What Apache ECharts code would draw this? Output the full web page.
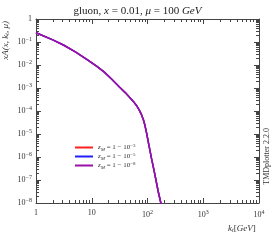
<!DOCTYPE html>
<html><head><meta charset="utf-8">
<script src="https://cdn.jsdelivr.net/npm/echarts@6/dist/echarts.min.js"></script>
<style>html,body{margin:0;padding:0;background:#fff}#c{width:275px;height:246px}</style>
</head><body><div id="c"></div>
<script>
const kt = [1, 2, 3.1, 5, 7.9, 12.2, 16.6, 22.4, 32, 39.8, 48.4, 56.2, 63.8, 70.8, 78.3, 84.1, 89.7, 96.6, 103, 118, 136, 156, 174, 200];
const zm3 = [0.251, 0.123, 0.0741, 0.038, 0.0186, 0.00891, 0.00501, 0.00251, 0.00105, 0.000631, 0.00038, 0.000255, 0.00017, 0.000112, 6.76e-5, 4.27e-5, 2.45e-5, 1.07e-5, 4.68e-6, 8.71e-7, 1.66e-7, 3.09e-8, 9.77e-9, 1.78e-9];
const zm5 = [0.251, 0.123, 0.0741, 0.038, 0.0186, 0.00891, 0.00501, 0.00251, 0.00105, 0.000631, 0.00038, 0.000255, 0.00017, 0.000112, 6.76e-5, 4.27e-5, 2.45e-5, 1.07e-5, 4.68e-6, 8.71e-7, 1.66e-7, 3.09e-8, 9.77e-9, 1.78e-9];
const zm8 = [0.251, 0.123, 0.0741, 0.038, 0.0186, 0.00891, 0.00501, 0.00251, 0.00105, 0.000631, 0.00038, 0.000255, 0.00017, 0.000112, 6.76e-5, 4.27e-5, 2.45e-5, 1.07e-5, 4.68e-6, 8.71e-7, 1.66e-7, 3.09e-8, 9.77e-9, 1.78e-9];
const seriesNames = ['zm3', 'zm5', 'zm8'];
const seriesExp = ['−3', '−5', '−8'];
const xMinorTicks = [2,3,4,5,6,7,8,9,20,30,40,50,60,70,80,90,200,300,400,500,600,700,800,900,2000,3000,4000,5000,6000,7000,8000,9000];
const yMinorTicks = [2e-8,3e-8,4e-8,5e-8,6e-8,7e-8,8e-8,9e-8,2e-7,3e-7,4e-7,5e-7,6e-7,7e-7,8e-7,9e-7,2e-6,3e-6,4e-6,5e-6,6e-6,7e-6,8e-6,9e-6,2e-5,3e-5,4e-5,5e-5,6e-5,7e-5,8e-5,9e-5,2e-4,3e-4,4e-4,5e-4,6e-4,7e-4,8e-4,9e-4,0.002,0.003,0.004,0.005,0.006,0.007,0.008,0.009,0.02,0.03,0.04,0.05,0.06,0.07,0.08,0.09,0.2,0.3,0.4,0.5,0.6,0.7,0.8,0.9];
const colors = ['#ff2020', '#2020ff', '#9a10a8'];

const F = 'Liberation Serif, DejaVu Serif, serif';
function yLab(v){
  const e = Math.round(Math.log10(v));
  if (e === 0) return '1';
  return '10{s|' + (e < 0 ? '−' : '') + Math.abs(e) + '}';
}
function xLab(v){
  const e = Math.round(Math.log10(v));
  if (e === 0) return '1';
  if (e === 1) return '10';
  return '10{s|' + e + '}';
}
const rich = { s: { fontSize: 6, verticalAlign: 'bottom', padding:[0,0,6,0], fontFamily: F, color:'#333' } };
const chart = echarts.init(document.getElementById('c'));
const datas = [zm3, zm5, zm8];
const axisLine = { onZero: false, lineStyle: { color: '#444', width: 1 } };
const lg = a => a.map(v => Math.log10(v));
function majorX(pos){
  return { type: 'log', logBase: 10, min: 1, max: 10000, position: pos, axisLine: axisLine,
    axisTick: { inside: true, length: 5, lineStyle:{color:'#444'} }, splitLine: { show: false },
    axisLabel: pos === 'bottom' ? { formatter: xLab, fontFamily: F, fontSize: 8, color: '#333', margin: 6, rich: rich } : { show: false } };
}
function minorX(pos){
  return { type: 'value', min: 0, max: 4, position: pos, axisLine: { show: false, onZero: false },
    axisTick: { show: true, inside: true, length: 3, customValues: lg(xMinorTicks), lineStyle:{color:'#444'} },
    splitLine: { show: false }, axisLabel: { show: false } };
}
function majorY(pos){
  return { type: 'log', logBase: 10, min: 1e-8, max: 1, position: pos, axisLine: axisLine,
    axisTick: { inside: true, length: 5, lineStyle:{color:'#444'} }, splitLine: { show: false },
    axisLabel: pos === 'left' ? { formatter: yLab, fontFamily: F, fontSize: 8, color: '#333', margin: 4, rich: rich } : { show: false } };
}
function minorY(pos){
  return { type: 'value', min: -8, max: 0, position: pos, axisLine: { show: false, onZero: false },
    axisTick: { show: true, inside: true, length: 3, customValues: lg(yMinorTicks), lineStyle:{color:'#444'} },
    splitLine: { show: false }, axisLabel: { show: false } };
}
chart.setOption({
  animation: false,
  title: { text: 'gluon, {i|x} = 0.01, {i|μ} = 100 {i|GeV}', left: 'center', top: 1,
    textStyle: { fontFamily: F, fontSize: 11, fontWeight: 'normal', color: '#222',
      rich: { i: { fontStyle: 'italic', fontFamily: F, fontSize: 11, color:'#222' } } } },
  grid: { left: 36, right: 16, top: 19, bottom: 43 },
  legend: {
    left: 70, top: 138, orient: 'vertical', itemWidth: 18, itemHeight: 2, itemGap: 0, icon: 'rect',
    data: seriesNames,
    formatter: function(n){ const i = seriesNames.indexOf(n); return '{i|z}{sub|M} = 1 − 10{s|' + seriesExp[i] + '}'; },
    textStyle: { fontFamily: F, fontSize: 7, color: '#333', padding:[0,0,0,0],
      rich: { i: { fontStyle: 'italic', fontFamily: F, fontSize: 7, color:'#333' },
              sub: { fontStyle: 'italic', fontFamily: F, fontSize: 5, verticalAlign:'top', padding:[4,0,0,0], color:'#333' },
              s: { fontFamily: F, fontSize: 5, verticalAlign:'bottom', padding:[0,0,4,0], color:'#333' } } }
  },
  xAxis: [ majorX('bottom'), majorX('top'), minorX('bottom'), minorX('top') ],
  yAxis: [ majorY('left'), majorY('right'), minorY('left'), minorY('right') ],
  series: seriesNames.map((n, i) => ({
    name: n, type: 'line', xAxisIndex: 0, yAxisIndex: 0, smooth: false, showSymbol: false, symbol: 'none', clip: true,
    lineStyle: { width: 1.5, color: colors[i] }, itemStyle: { color: colors[i] },
    data: kt.map((k, j) => [k, datas[i][j]])
  })),
  graphic: [
    { type: 'text', left: 1, top: 21, rotation: Math.PI/2,
      style: { text: '{i|xA}(x, k{sub|t}, μ)', font: 'italic 9px ' + F, fill: '#333',
        rich: { i:{ fontStyle:'italic', fontFamily: F, fontSize: 9, fill:'#333' }, sub:{ fontFamily: F, fontSize: 6, fontStyle:'italic', verticalAlign:'top', padding:[4,0,0,0] } } } },
    { type: 'text', left: 228, top: 224,
      style: { text: '{i|k}{sub|t}[{i|GeV}]', font: '9px ' + F, fill: '#333',
        rich: { i:{ fontStyle:'italic', fontFamily: F, fontSize: 9 }, sub:{ fontFamily: F, fontSize: 6, fontStyle:'italic', verticalAlign:'top', padding:[4,0,0,0] } } } },
    { type: 'text', left: 263, top: 128, rotation: Math.PI/2,
      style: { text: 'TMDplotter 2.2.0', font: '8px ' + F, fill: '#333' } }
  ]
});
</script></body></html>
